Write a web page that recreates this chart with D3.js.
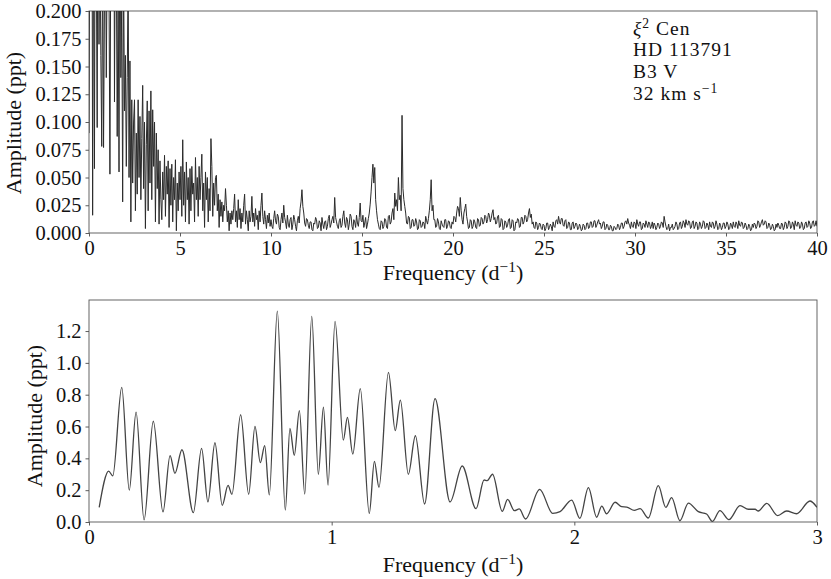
<!DOCTYPE html>
<html>
<head>
<meta charset="utf-8">
<script src="https://cdn.jsdelivr.net/npm/d3@7/dist/d3.min.js"></script>
<style>
  body { margin: 0; background: #fff; }
  svg { display: block; }
  text { font-family: "Liberation Serif", "DejaVu Serif", serif; fill: #111; }
</style>
</head>
<body>
<svg id="chart" width="831" height="579"></svg>
<script>
// ---------- DATA ----------
// Top panel: amplitude spectrum (ppt). Low part: 0.00 .. 9.95 d^-1, step 0.05
const topLowStart = 0.0, topLowStep = 0.05;
const topLowAmp = [
  0.09,0.35,0.22,0.45,0.016,0.30,0.058,0.40,0.25,0.095,0.38,0.17,0.28,0.16,0.078,0.26,0.077,0.21,0.30,0.14,
  0.25,0.35,0.22,0.053,0.28,0.40,0.32,0.45,0.118,0.30,0.25,0.087,0.22,0.055,0.35,0.14,0.21,0.028,0.24,0.11,
  0.16,0.06,0.14,0.23,0.05,0.155,0.01,0.12,0.045,0.10,0.12,0.02,0.09,0.035,0.12,0.05,0.105,0.03,0.085,0.133,
  0.04,0.10,0.004,0.08,0.119,0.02,0.11,0.045,0.128,0.03,0.111,0.06,0.10,0.01,0.09,0.04,0.075,0.008,0.065,0.03,
  0.012,0.055,0.03,0.07,0.015,0.06,0.035,0.065,0.005,0.058,0.025,0.062,0.01,0.05,0.03,0.066,0.002,0.045,0.02,0.055,
  0.03,0.06,0.015,0.084,0.025,0.055,0.01,0.064,0.03,0.05,0.008,0.058,0.02,0.06,0.035,0.045,0.01,0.068,0.03,0.05,
  0.015,0.06,0.03,0.05,0.071,0.02,0.045,0.005,0.055,0.03,0.05,0.01,0.04,0.02,0.085,0.06,0.015,0.045,0.025,0.05,
  0.052,0.02,0.035,0.005,0.03,0.015,0.028,0.01,0.025,0.02,0.04,0.025,0.01,0.02,0.002,0.018,0.008,0.02,0.012,0.022,
  0.035,0.01,0.02,0.005,0.03,0.012,0.022,0.004,0.018,0.01,0.025,0.035,0.008,0.02,0.012,0.002,0.02,0.01,0.015,0.033,
  0.01,0.018,0.006,0.022,0.012,0.016,0.003,0.02,0.01,0.025,0.036,0.015,0.008,0.02,0.012,0.004,0.016,0.009,0.018,0.006
];
// High part: 10.00 .. 40.00 d^-1, step 0.05
const topHighStart = 10.0, topHighStep = 0.05;
const topHighAmp = [
  0.012,0.006,0.004,0.013,0.02,0.011,0.008,0.017,0.015,0.005,0.003,0.012,0.018,0.009,0.025,0.014,0.01,0.004,0.016,0.008,
  0.005,0.012,0.014,0.003,0.008,0.016,0.012,0.006,0.002,0.011,0.015,0.009,0.022,0.028,0.039,0.024,0.018,0.009,0.006,0.013,
  0.012,0.007,0.004,0.01,0.01,0.003,0.002,0.009,0.008,0.014,0.012,0.004,0.005,0.011,0.009,0.002,0.014,0.008,0.004,0.01,
  0.011,0.003,0.006,0.013,0.016,0.005,0.008,0.012,0.015,0.009,0.032,0.014,0.01,0.006,0.004,0.011,0.013,0.005,0.007,0.015,
  0.02,0.009,0.005,0.014,0.012,0.003,0.008,0.017,0.015,0.006,0.003,0.012,0.01,0.005,0.016,0.009,0.006,0.014,0.027,0.011,
  0.01,0.016,0.005,0.009,0.014,0.004,0.008,0.013,0.018,0.026,0.037,0.05,0.062,0.045,0.059,0.03,0.02,0.012,0.008,0.004,
  0.003,0.011,0.01,0.004,0.006,0.013,0.012,0.005,0.004,0.015,0.016,0.008,0.01,0.018,0.022,0.012,0.036,0.024,0.03,0.02,
  0.05,0.03,0.034,0.02,0.106,0.04,0.03,0.024,0.018,0.009,0.008,0.015,0.014,0.004,0.005,0.012,0.012,0.006,0.007,0.013,
  0.01,0.003,0.004,0.012,0.011,0.005,0.006,0.01,0.009,0.004,0.015,0.011,0.008,0.013,0.02,0.03,0.048,0.02,0.025,0.012,
  0.012,0.005,0.006,0.013,0.01,0.004,0.003,0.011,0.008,0.006,0.005,0.012,0.012,0.004,0.006,0.011,0.01,0.005,0.004,0.01,
  0.008,0.015,0.014,0.01,0.018,0.024,0.022,0.015,0.032,0.02,0.012,0.008,0.018,0.022,0.026,0.015,0.01,0.004,0.005,0.012,
  0.011,0.004,0.006,0.012,0.01,0.005,0.004,0.013,0.012,0.006,0.007,0.014,0.013,0.008,0.01,0.016,0.015,0.009,0.012,0.018,
  0.016,0.01,0.013,0.018,0.021,0.012,0.014,0.008,0.009,0.015,0.016,0.005,0.006,0.013,0.012,0.003,0.004,0.011,0.01,0.005,
  0.007,0.012,0.013,0.004,0.005,0.012,0.011,0.002,0.003,0.01,0.009,0.013,0.012,0.005,0.006,0.014,0.014,0.008,0.01,0.016,
  0.015,0.01,0.012,0.018,0.022,0.014,0.017,0.008,0.01,0.005,0.004,0.01,0.009,0.003,0.005,0.009,0.008,0.004,0.003,0.008,
  0.007,0.002,0.004,0.009,0.009,0.003,0.005,0.008,0.006,0.002,0.01,0.006,0.005,0.011,0.012,0.008,0.015,0.01,0.008,0.013,
  0.013,0.007,0.006,0.011,0.012,0.004,0.005,0.01,0.009,0.003,0.003,0.009,0.01,0.004,0.006,0.009,0.008,0.003,0.004,0.008,
  0.006,0.002,0.003,0.008,0.007,0.003,0.004,0.009,0.009,0.004,0.005,0.01,0.01,0.005,0.006,0.011,0.011,0.005,0.007,0.01,
  0.012,0.008,0.009,0.004,0.006,0.01,0.01,0.003,0.004,0.008,0.007,0.003,0.003,0.007,0.006,0.002,0.002,0.006,0.005,0.003,
  0.004,0.008,0.007,0.003,0.005,0.009,0.009,0.004,0.006,0.01,0.011,0.008,0.013,0.009,0.007,0.004,0.01,0.006,0.005,0.01,
  0.009,0.004,0.012,0.008,0.006,0.01,0.01,0.003,0.004,0.009,0.008,0.005,0.011,0.008,0.005,0.01,0.009,0.004,0.006,0.01,
  0.004,0.009,0.007,0.003,0.005,0.009,0.008,0.004,0.006,0.01,0.009,0.005,0.015,0.01,0.006,0.003,0.004,0.008,0.002,0.005,
  0.005,0.008,0.003,0.004,0.006,0.01,0.008,0.003,0.004,0.009,0.01,0.004,0.006,0.011,0.009,0.005,0.012,0.008,0.007,0.011,
  0.01,0.004,0.005,0.01,0.011,0.004,0.006,0.01,0.009,0.003,0.004,0.01,0.008,0.004,0.006,0.011,0.01,0.004,0.005,0.009,
  0.007,0.003,0.01,0.006,0.005,0.01,0.009,0.004,0.006,0.011,0.008,0.003,0.004,0.009,0.007,0.003,0.005,0.009,0.009,0.004,
  0.006,0.01,0.008,0.003,0.004,0.009,0.007,0.004,0.01,0.006,0.005,0.01,0.008,0.004,0.011,0.007,0.006,0.01,0.009,0.004,
  0.005,0.009,0.007,0.003,0.004,0.008,0.006,0.002,0.003,0.008,0.005,0.009,0.008,0.004,0.006,0.011,0.01,0.005,0.007,0.01,
  0.012,0.007,0.008,0.011,0.01,0.004,0.005,0.009,0.007,0.003,0.004,0.008,0.006,0.002,0.003,0.008,0.005,0.009,0.007,0.004,
  0.004,0.009,0.008,0.003,0.005,0.01,0.009,0.004,0.006,0.011,0.01,0.004,0.005,0.01,0.008,0.003,0.011,0.007,0.006,0.01,
  0.009,0.004,0.005,0.01,0.008,0.003,0.004,0.009,0.01,0.005,0.006,0.011,0.009,0.004,0.005,0.01,0.011,0.006,0.007,0.011,
  0.006
];
const topXTicks = [0,5,10,15,20,25,30,35,40];
const topYTicks = [0.000,0.025,0.050,0.075,0.100,0.125,0.150,0.175,0.200];

// Bottom panel: low-frequency zoom (extrema)
const botFreq = [0.042,0.081,0.098,0.135,0.166,0.194,0.227,0.265,0.305,0.334,0.354,0.383,0.430,0.464,0.490,0.519,0.549,0.573,0.589,0.625,0.658,0.684,0.706,0.724,0.743,0.776,0.809,0.828,0.846,0.867,0.889,0.918,0.945,0.966,0.985,1.014,1.048,1.065,1.087,1.118,1.155,1.176,1.195,1.234,1.262,1.283,1.316,1.345,1.383,1.426,1.488,1.538,1.595,1.628,1.641,1.663,1.703,1.725,1.753,1.773,1.799,1.857,1.911,1.941,1.989,2.023,2.058,2.092,2.113,2.133,2.168,2.195,2.216,2.247,2.271,2.305,2.346,2.377,2.401,2.435,2.470,2.511,2.545,2.569,2.600,2.637,2.683,2.717,2.745,2.758,2.793,2.838,2.875,2.916,2.971,3.0];
const botAmp  = [0.092,0.32,0.29,0.846,0.20,0.69,0.013,0.633,0.063,0.417,0.306,0.454,0.059,0.463,0.126,0.498,0.105,0.23,0.174,0.674,0.174,0.601,0.373,0.48,0.17,1.325,0.075,0.588,0.419,0.70,0.176,1.292,0.30,0.722,0.232,1.261,0.515,0.657,0.427,0.838,0.054,0.381,0.218,0.94,0.574,0.766,0.30,0.542,0.113,0.775,0.126,0.352,0.084,0.264,0.26,0.30,0.067,0.142,0.071,0.082,0.019,0.205,0.054,0.065,0.138,0.023,0.216,0.03,0.10,0.052,0.124,0.096,0.094,0.073,0.084,0.025,0.228,0.092,0.153,0.008,0.119,0.065,0.05,0.004,0.071,0.015,0.103,0.08,0.08,0.069,0.117,0.04,0.069,0.052,0.132,0.092];
const botXTicks = [0,1,2,3];
const botYTicks = [0.0,0.2,0.4,0.6,0.8,1.0,1.2];

const starName = "Cen", starHD = "HD 113791", starType = "B3 V", starVsini = "32 km s";

// ---------- DRAW ----------
const svg = d3.select("#chart");
const L = 89, R = 817;
const FS = 20.5;   // tick labels
const LFS = 22;    // axis labels
const AFS = 19.5;  // annotation

function panel(top, bottom, xDomain, yDomain, xTicks, yTicks, yFmt, xFmt, clipId) {
  const x = d3.scaleLinear().domain(xDomain).range([L, R]);
  const y = d3.scaleLinear().domain(yDomain).range([bottom, top]);
  svg.append("clipPath").attr("id", clipId)
    .append("rect").attr("x", L).attr("y", top).attr("width", R - L).attr("height", bottom - top);

  const xa = svg.append("g").attr("transform", `translate(0,${bottom})`)
    .call(d3.axisBottom(x).tickValues(xTicks).tickFormat(xFmt).tickSize(3.5).tickPadding(4));
  const ya = svg.append("g").attr("transform", `translate(${L},0)`)
    .call(d3.axisLeft(y).tickValues(yTicks).tickFormat(yFmt).tickSize(3.5).tickPadding(4));
  [xa, ya].forEach(g => {
    g.select(".domain").remove();
    g.selectAll("line").attr("stroke", "#333").attr("stroke-width", 0.8);
    g.selectAll("text").attr("font-size", FS).attr("font-family", "Liberation Serif").attr("fill", "#111");
  });
  svg.append("rect").attr("x", L).attr("y", top).attr("width", R - L).attr("height", bottom - top)
    .attr("fill", "none").attr("stroke", "#555").attr("stroke-width", 0.9);
  return { x, y };
}

// Top panel
const tp = panel(11, 233, [0, 40], [0, 0.2], topXTicks, topYTicks, d3.format(".3f"), d3.format("d"), "clipTop");
const topData = topLowAmp.map((a, i) => [topLowStart + i * topLowStep, a])
  .concat(topHighAmp.map((a, i) => [topHighStart + i * topHighStep, a]));
svg.append("path").datum(topData)
  .attr("clip-path", "url(#clipTop)")
  .attr("fill", "none").attr("stroke", "#2b2b2b").attr("stroke-width", 1)
  .attr("stroke-linejoin", "round")
  .attr("d", d3.line().x(d => tp.x(d[0])).y(d => tp.y(d[1])));

// Bottom panel
const bp = panel(300, 522, [0, 3], [0, 1.395], botXTicks, botYTicks, d3.format(".1f"), d3.format("d"), "clipBot");
svg.append("path").datum(botFreq.map((f, i) => [f, botAmp[i]]))
  .attr("clip-path", "url(#clipBot)")
  .attr("fill", "none").attr("stroke", "#444").attr("stroke-width", 1.3)
  .attr("d", d3.line().curve(d3.curveMonotoneX).x(d => bp.x(d[0])).y(d => bp.y(d[1])));

// Axis labels
function freqLabel(yBase) {
  const t = svg.append("text").attr("x", (L + R) / 2).attr("y", yBase)
    .attr("text-anchor", "middle").attr("font-size", LFS);
  t.append("tspan").text("Frequency (d");
  t.append("tspan").attr("font-size", LFS * 0.7).attr("dy", -8).text("−1");
  t.append("tspan").attr("dy", 8).text(")");
}
freqLabel(280);
freqLabel(572);

function ampLabel(cx, cy) {
  svg.append("text").attr("transform", `translate(${cx},${cy}) rotate(-90)`)
    .attr("text-anchor", "middle").attr("font-size", LFS).text("Amplitude (ppt)");
}
ampLabel(21, 123);
ampLabel(42, 416);

// Annotation
const ax = 633, lh = 21.7;
const ann = svg.append("text").attr("x", ax).attr("y", 34.5)
  .attr("font-size", AFS).attr("letter-spacing", 1);
ann.append("tspan").attr("font-style", "italic").text("ξ");
ann.append("tspan").attr("font-size", AFS * 0.7).attr("dy", -7).text("2");
ann.append("tspan").attr("dy", 7).text(" " + starName);
ann.append("tspan").attr("x", ax).attr("dy", lh).text(starHD);
ann.append("tspan").attr("x", ax).attr("dy", lh).text(starType);
ann.append("tspan").attr("x", ax).attr("dy", lh).text(starVsini);
ann.append("tspan").attr("font-size", AFS * 0.7).attr("dy", -7).text("−1");
</script>
</body>
</html>
